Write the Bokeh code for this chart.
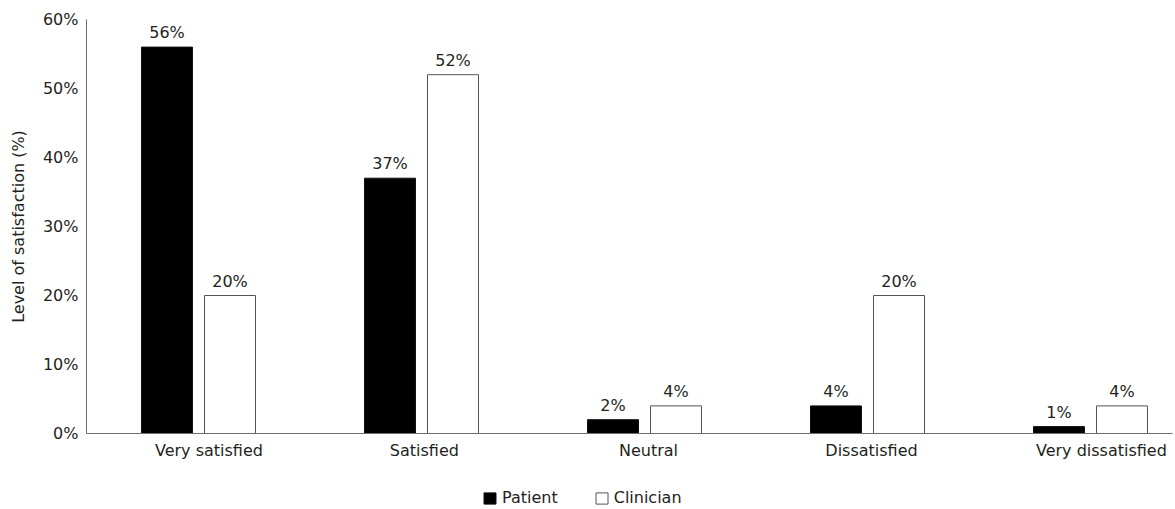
from bokeh.plotting import figure
from bokeh.layouts import column
from bokeh.models import (Range1d, FixedTicker, PrintfTickFormatter, Legend,
                          LegendItem, ColumnDataSource)
from bokeh.embed import file_html
from bokeh.resources import INLINE
from bokeh.core.properties import value

# ---- data ----
categories = ["Very satisfied", "Satisfied", "Neutral", "Dissatisfied", "Very dissatisfied"]
patient = [56, 37, 2, 4, 1]
clinician = [20, 52, 4, 20, 4]
y_ticks = [0, 10, 20, 30, 40, 50, 60]
series_names = ["Patient", "Clinician"]

FONT = "DejaVu Sans"
TXT = "#231f20"
AXC = "#6e6e6e"
P_FILL, P_LINE = "#000000", "#111111"
C_FILL, C_LINE = "#ffffff", "#555555"

idx = list(range(len(categories)))
off = 0.1413
bw = 0.2287

src_p = ColumnDataSource(dict(x=[i - off for i in idx], top=patient,
                              lab=[f"{v}%" for v in patient]))
src_c = ColumnDataSource(dict(x=[i + off for i in idx], top=clinician,
                              lab=[f"{v}%" for v in clinician]))

p = figure(width=1175, height=470, output_backend="svg", toolbar_location=None,
           x_range=Range1d(-0.5022, 4.3677), y_range=Range1d(0, 60),
           min_border_left=86, min_border_right=3, min_border_top=19,
           min_border_bottom=37)
p.outline_line_color = None
p.xgrid.visible = False
p.ygrid.visible = False

r1 = p.vbar(x="x", top="top", width=bw, bottom=0, source=src_p,
            fill_color=P_FILL, line_color=P_LINE, line_width=1)
r2 = p.vbar(x="x", top="top", width=bw, bottom=0, source=src_c,
            fill_color=C_FILL, line_color=C_LINE, line_width=1)

for s in (src_p, src_c):
    p.text(x="x", y="top", text="lab", source=s, text_align="center",
           text_baseline="bottom", y_offset=-5,
           text_font=value(FONT), text_font_size="16px", text_color=TXT)

# x axis
label_shift = [0.047, 0.013, 0.018, 0.018, 0.049]
xt = [i + d for i, d in zip(idx, label_shift)]
p.xaxis.ticker = FixedTicker(ticks=xt)
p.xaxis.major_label_overrides = {t: c for t, c in zip(xt, categories)}
p.xaxis.major_tick_line_color = None
p.xaxis.minor_tick_line_color = None
p.xaxis.major_tick_out = 0
p.xaxis.major_tick_in = 0
p.xaxis.axis_line_color = AXC
p.xaxis.major_label_standoff = 7
p.xaxis.major_label_text_font = FONT
p.xaxis.major_label_text_font_size = "16px"
p.xaxis.major_label_text_color = TXT

# y axis
p.yaxis.ticker = FixedTicker(ticks=y_ticks)
p.yaxis.formatter = PrintfTickFormatter(format="%d%%")
p.yaxis.major_tick_line_color = None
p.yaxis.minor_tick_line_color = None
p.yaxis.major_tick_out = 0
p.yaxis.major_tick_in = 0
p.yaxis.axis_line_color = AXC
p.yaxis.major_label_standoff = 8
p.yaxis.major_label_text_font = FONT
p.yaxis.major_label_text_font_size = "16px"
p.yaxis.major_label_text_color = TXT
p.yaxis.axis_label = "Level of satisfaction (%)"
p.yaxis.axis_label_text_font = FONT
p.yaxis.axis_label_text_font_size = "16px"
p.yaxis.axis_label_text_font_style = "normal"
p.yaxis.axis_label_text_color = TXT
p.yaxis.axis_label_standoff = 12

# legend strip below the chart (bars themselves fall outside its y range)
lf = figure(width=1175, height=39, output_backend="svg", toolbar_location=None,
            x_range=Range1d(-0.5022, 4.3677), y_range=Range1d(1000, 1001),
            min_border_left=86, min_border_right=3, min_border_top=0,
            min_border_bottom=0)
lf.axis.visible = False
lf.grid.visible = False
lf.outline_line_color = None
lr1 = lf.vbar(x="x", top="top", width=bw, bottom=0, source=src_p,
              fill_color=P_FILL, line_color=P_LINE)
lr2 = lf.vbar(x="x", top="top", width=bw, bottom=0, source=src_c,
              fill_color=C_FILL, line_color=C_LINE)
legend = Legend(items=[LegendItem(label=series_names[0], renderers=[lr1]),
                       LegendItem(label=series_names[1], renderers=[lr2])],
                location=(396, 2), orientation="horizontal",
                glyph_width=15, glyph_height=14, label_standoff=5, spacing=36,
                padding=0, margin=0, border_line_color=None,
                background_fill_alpha=0, label_text_font=FONT,
                label_text_font_size="16px", label_text_color=TXT)
lf.add_layout(legend)

layout = column(p, lf, spacing=0)
open("out.html", "w").write(file_html(layout, INLINE))
